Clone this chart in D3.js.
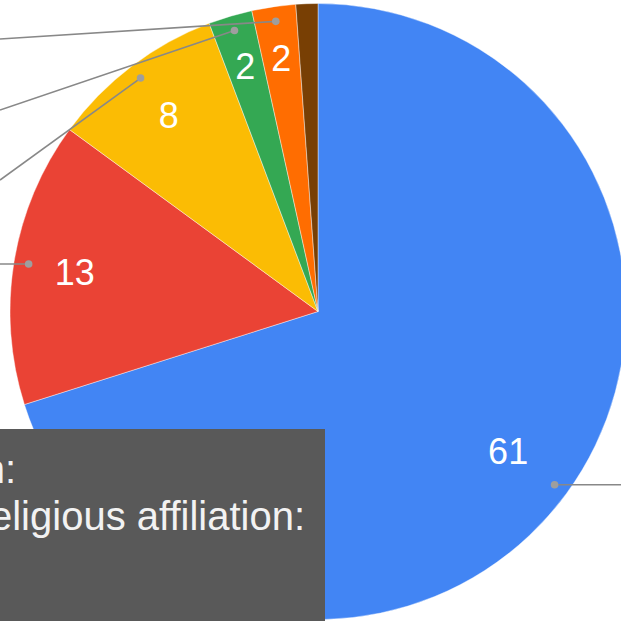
<!DOCTYPE html>
<html>
<head>
<meta charset="utf-8">
<script src="https://cdn.jsdelivr.net/npm/d3@7"></script>
<style>
  html, body { margin: 0; padding: 0; background: #fff; overflow: hidden; }
  svg { display: block; }
</style>
</head>
<body>
<svg id="chart" width="621" height="621"></svg>
<script>
// Slice values, clockwise from 12 o'clock
const categories = ["Slice 1", "Slice 2", "Slice 3", "Slice 4", "Slice 5", "Slice 6"];
const values = [61, 13, 8, 2, 2, 1];
const colors = ["#4285f4", "#ea4335", "#fbbc04", "#34a853", "#ff6d01", "#783f04"];
// Which slices carry a value label inside and a leader line
const showLabel = [true, true, true, true, true, false];
// Tooltip lines
const tooltipLines = ["Religion:", "Religious affiliation:"];

const width = 621, height = 621;
const cx = 318, cy = 311.5, R = 308;

const svg = d3.select("#chart");
const g = svg.append("g").attr("transform", `translate(${cx},${cy})`);

const pie = d3.pie().sort(null).value(d => d.value);
const data = categories.map((c, i) => ({ name: c, value: values[i], color: colors[i], label: showLabel[i] }));
const arcs = pie(data);

const arc = d3.arc().innerRadius(0).outerRadius(R);

g.selectAll("path.slice")
  .data(arcs)
  .enter().append("path")
  .attr("class", "slice")
  .attr("d", arc)
  .attr("fill", d => d.data.color)
  .attr("stroke", "rgba(255,255,255,0.6)")
  .attr("stroke-width", 0.7);

// Value labels inside slices; narrow slices push their label a little further out
function labelRadius(d) {
  const span = d.endAngle - d.startAngle;
  if (span > Math.PI) return R * 0.765;
  if (span < 0.3) return R * 0.83;
  return R * 0.8;
}
g.selectAll("text.val")
  .data(arcs.filter(d => d.data.label))
  .enter().append("text")
  .attr("class", "val")
  .attr("transform", d => {
    const r = labelRadius(d);
    const [x, y] = d3.arc().innerRadius(r).outerRadius(r).centroid(d);
    return `translate(${x},${y})`;
  })
  .attr("text-anchor", "middle")
  .attr("dy", "0.36em")
  .attr("font-family", "Arial, 'Liberation Sans', sans-serif")
  .attr("font-size", 36)
  .attr("fill", "#ffffff")
  .text(d => d.data.value);

// Leader lines: start at 95% radius on the slice mid-angle, run out to the legend side
const dotArc = d3.arc().innerRadius(R * 0.952).outerRadius(R * 0.952);
// Outer end of each leader in page coordinates (null y = horizontal)
const leaderEnds = [[660, null], [-40, null], [0, 180], [0, 110], [0, 39], null];

const leaders = arcs.map((d, i) => {
  if (!leaderEnds[i]) return null;
  const [x, y] = dotArc.centroid(d);
  const px = x + cx, py = y + cy;
  const end = leaderEnds[i];
  return { x1: px, y1: py, x2: end[0], y2: end[1] === null ? py : end[1] };
}).filter(Boolean);

svg.selectAll("line.leader")
  .data(leaders)
  .enter().append("line")
  .attr("class", "leader")
  .attr("x1", d => d.x1).attr("y1", d => d.y1)
  .attr("x2", d => d.x2).attr("y2", d => d.y2)
  .attr("stroke", "#888888")
  .attr("stroke-width", 1.6);

svg.selectAll("circle.dot")
  .data(leaders)
  .enter().append("circle")
  .attr("class", "dot")
  .attr("cx", d => d.x1).attr("cy", d => d.y1)
  .attr("r", 3.8)
  .attr("fill", "#9e9e9e");

// Tooltip box
const tip = svg.append("g");
tip.append("rect")
  .attr("x", -20).attr("y", 429)
  .attr("width", 345).attr("height", 220)
  .attr("fill", "#595959");
tip.selectAll("text")
  .data(tooltipLines)
  .enter().append("text")
  .attr("x", (d, i) => i === 0 ? 16 : 305)
  .attr("y", (d, i) => 483 + i * 47)
  .attr("text-anchor", "end")
  .attr("font-family", "Arial, 'Liberation Sans', sans-serif")
  .attr("font-size", 40)
  .attr("fill", "#f2f2f2")
  .text(d => d);
</script>
</body>
</html>
